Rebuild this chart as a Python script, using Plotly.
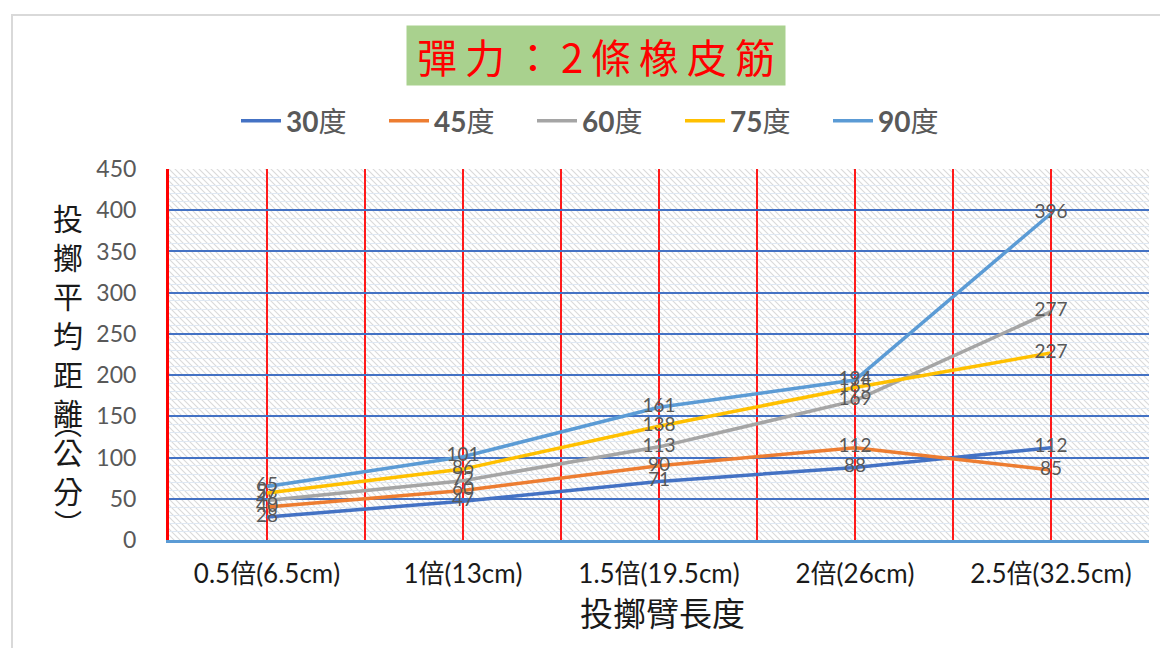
import base64
import plotly.graph_objects as go

# Throw distance (cm) by arm length, one series per launch angle
categories = ["0.5倍(6.5cm)", "1倍(13cm)", "1.5倍(19.5cm)", "2倍(26cm)", "2.5倍(32.5cm)"]
angles = ["30", "45", "60", "75", "90"]
dist_30 = [28, 47, 71, 88, 112]
dist_45 = [40, 60, 90, 112, 85]
dist_60 = [48, 72, 113, 169, 277]
dist_75 = [57, 86, 138, 185, 227]
dist_90 = [65, 101, 161, 194, 396]
y_ticks = [0, 50, 100, 150, 200, 250, 300, 350, 400, 450]

series = [dist_30, dist_45, dist_60, dist_75, dist_90]
colors = ["#4472C4", "#ED7D31", "#A5A5A5", "#FFC000", "#5B9BD5"]

CJK = "Noto Sans CJK TC"
NUM = "Lato, Noto Sans CJK TC"

W, H = 1160, 648
ML, MR, MT, MB = 169, 11, 169, 108
PW, PH = W - ML - MR, H - MT - MB  # 980 x 371 plot area


def py(pixel_y):
    """paper y for a pixel row of the page"""
    return (H - MB - pixel_y) / PH


def px(pixel_x):
    """paper x for a pixel column of the page"""
    return (pixel_x - ML) / PW


fig = go.Figure()
xs = list(range(len(categories)))
for ang, vals, col in zip(angles, series, colors):
    fig.add_trace(go.Scatter(
        x=xs, y=vals, name=f"<b>{ang}</b>度",
        mode="lines+text",
        line=dict(color=col, width=3.5),
        text=[str(v) for v in vals],
        textposition="middle center",
        textfont=dict(family=NUM, size=19, color="#595959"),
        cliponaxis=False,
    ))

# x ticks on every half step: labels on categories, grid at every step
x_tickvals, x_ticktext = [], []
for i, c in enumerate(categories):
    x_tickvals += [i - 0.5, i]
    x_ticktext += ["", c]
x_tickvals.append(len(categories) - 0.5)
x_ticktext.append("")

# diagonal hatch used as the plot-area background
hatch_svg = (
    f'<svg xmlns="http://www.w3.org/2000/svg" width="{PW}" height="{PH}">'
    '<defs><pattern id="h" patternUnits="userSpaceOnUse" width="6" height="6">'
    '<rect width="6" height="6" fill="#ffffff"/>'
    '<path d="M-1,-1 L7,7 M-1,5 L1,7 M5,-1 L7,1" stroke="#dadada" stroke-width="1.1"/>'
    f'</pattern></defs><rect width="{PW}" height="{PH}" fill="url(#h)"/></svg>'
)
hatch_uri = "data:image/svg+xml;base64," + base64.b64encode(hatch_svg.encode()).decode()

title_text = "\u2009".join("彈力：2條橡皮筋")
ytitle_x = px(68)

fig.update_layout(
    width=W, height=H,
    margin=dict(l=ML, r=MR, t=MT, b=MB),
    paper_bgcolor="white", plot_bgcolor="white",
    showlegend=True,
    legend=dict(
        orientation="h", x=px(606), y=py(121), xanchor="center", yanchor="middle",
        font=dict(family=NUM, size=28, color="#595959"),
        itemwidth=40, entrywidth=93, tracegroupgap=0,
    ),
    images=[dict(source=hatch_uri, xref="paper", yref="paper", x=0, y=1,
                 sizex=1, sizey=1, sizing="stretch", layer="below",
                 xanchor="left", yanchor="top")],
    xaxis=dict(
        range=[-0.5, 4.5], tickmode="array", tickvals=x_tickvals, ticktext=x_ticktext,
        tickfont=dict(family=NUM, size=26, color="#1a1a1a"),
        ticks="outside", ticklen=9, tickcolor="rgba(0,0,0,0)",
        showgrid=True, gridcolor="#FF1a1a", gridwidth=1.5,
        showline=True, linecolor="#5B9BD5", linewidth=2.5,
        zeroline=False, fixedrange=True,
    ),
    yaxis=dict(
        range=[0, 450], tickmode="array", tickvals=y_ticks,
        tickfont=dict(family=NUM, size=23, color="#595959"),
        ticks="outside", ticklen=25, tickcolor="rgba(0,0,0,0)",
        showgrid=True, gridcolor="#4472C4", gridwidth=2,
        minor=dict(dtick=10, showgrid=True, gridcolor="#dfe8f3", gridwidth=1),
        showline=True, linecolor="#FF0000", linewidth=3,
        zeroline=False, fixedrange=True,
    ),
    annotations=[
        dict(text=title_text, xref="paper", yref="paper", x=px(596), y=py(56),
             xanchor="center", yanchor="middle", showarrow=False,
             font=dict(family=CJK, size=40, color="#FF0000"),
             bgcolor="#A9D18E", borderpad=0, width=378, height=59),
        dict(text="投擲臂長度", xref="paper", yref="paper", x=px(662), y=py(612),
             xanchor="center", yanchor="middle", showarrow=False,
             font=dict(family=CJK, size=33, color="#1a1a1a")),
        dict(text="投<br>擲<br>平<br>均<br>距<br>離<br>公<br>分", xref="paper", yref="paper",
             x=ytitle_x, y=py(353), xanchor="center", yanchor="middle", showarrow=False,
             font=dict(family=CJK, size=30, color="#1a1a1a")),
        dict(text="⌒", xref="paper", yref="paper", x=ytitle_x, y=py(442),
             xanchor="center", yanchor="middle", showarrow=False,
             font=dict(family=CJK, size=28, color="#1a1a1a")),
        dict(text="⌒", xref="paper", yref="paper", x=ytitle_x, y=py(506),
             xanchor="center", yanchor="middle", showarrow=False, textangle=180,
             font=dict(family=CJK, size=28, color="#1a1a1a")),
    ],
    shapes=[dict(type="rect", xref="paper", yref="paper", x0=px(12), x1=px(1175),
                 y0=py(700), y1=py(15), line=dict(color="#d9d9d9", width=2),
                 fillcolor="rgba(0,0,0,0)", layer="below")],
)

fig.write_html("out.html")
